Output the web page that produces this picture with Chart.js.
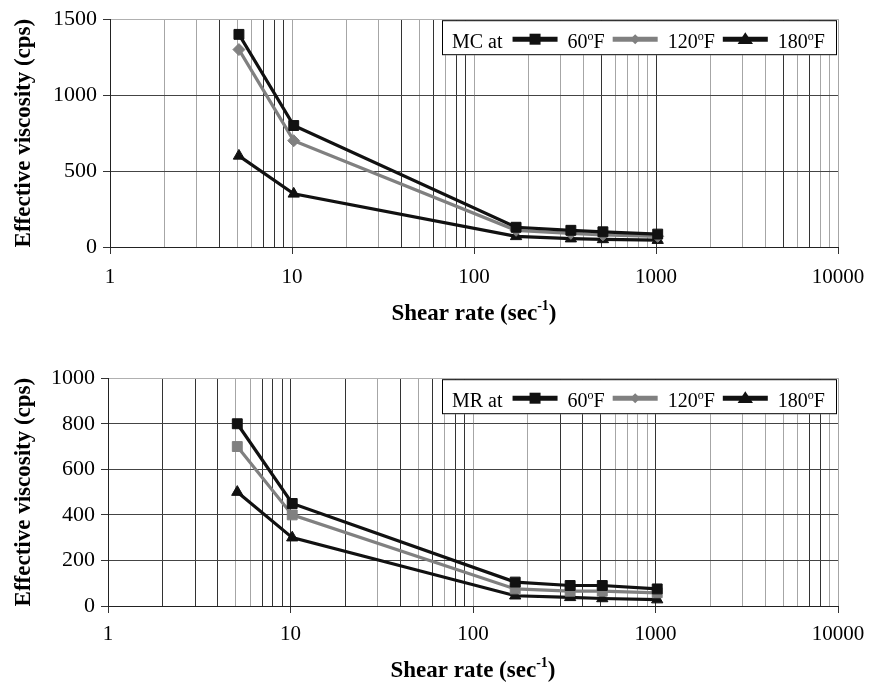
<!DOCTYPE html>
<html>
<head>
<meta charset="utf-8">
<script src="https://cdn.jsdelivr.net/npm/chart.js@4.4.1/dist/chart.umd.min.js"></script>
<style>
  html, body { margin: 0; background: #fff; }
  body { width: 869px; height: 687px; position: relative; overflow: hidden; }
  canvas { position: absolute; left: 0; }
  #mcChart { top: 0; }
  #mrChart { top: 359px; }
</style>
</head>
<body>
<canvas id="mcChart" width="869" height="343"></canvas>
<canvas id="mrChart" width="869" height="328"></canvas>
<script>
// shear rates (sec^-1) of the six viscometer speeds
const SHEAR_RATES = [5.11, 10.22, 170.3, 340.6, 510.9, 1021.8];
const TEMPS = ['60', '120', '180'];

// MC fluid, effective viscosity (cps)
const MC_60F = [1400, 800, 130, 110, 100, 85];
const MC_120F = [1300, 700, 110, 90, 80, 70];
const MC_180F = [600, 350, 70, 55, 50, 45];

// MR fluid, effective viscosity (cps)
const MR_60F = [800, 450, 105, 90, 90, 75];
const MR_120F = [700, 400, 75, 65, 65, 58];
const MR_180F = [500, 300, 45, 38, 33, 28];

// log axis: a grid line at every 1..9 of each decade, labels at the decades
const X_DECADES = [1, 10, 100, 1000, 10000];
const X_MANTISSAS = [1, 2, 3, 4, 5, 6, 7, 8, 9];
const X_LABELS = ['1', '10', '100', '1000', '10000'];

const MC_Y_TICKS = [0, 500, 1000, 1500];
const MR_Y_TICKS = [0, 200, 400, 600, 800, 1000];

// the scanned original has some grid lines printed darker than others
const MC_DARK_X = [4, 7, 8, 9, 40, 60, 80, 90, 500, 1000, 5000, 7000];
const MR_DARK_X = [2, 3, 4, 7, 8, 9, 10, 20, 40, 60, 80, 90, 300, 400, 500, 1000, 7000, 8000];

const FONT = "'Liberation Serif', 'Times New Roman', serif";
const INK = '#111';
const GREY = '#808080';

Chart.defaults.font.family = FONT;
Chart.defaults.font.size = 21;
Chart.defaults.color = '#000';

function xGridValues() {
  const vals = [];
  X_DECADES.slice(0, -1).forEach(d => X_MANTISSAS.forEach(m => vals.push(m * d)));
  vals.push(X_DECADES[X_DECADES.length - 1]);
  return vals;
}

// text with a raised small part, returns x after it
function drawSupText(ctx, parts, x, y, size, bold) {
  const w = bold ? 'bold ' : '';
  parts.forEach(([txt, isSup]) => {
    ctx.font = `${w}${isSup ? Math.round(size * 0.6) : size}px ${FONT}`;
    ctx.fillText(txt, x, isSup ? y - size * 0.42 : y);
    x += ctx.measureText(txt).width;
  });
  return x;
}

function measureSupText(ctx, parts, size, bold) {
  const w = bold ? 'bold ' : '';
  let tw = 0;
  parts.forEach(([txt, isSup]) => {
    ctx.font = `${w}${isSup ? Math.round(size * 0.6) : size}px ${FONT}`;
    tw += ctx.measureText(txt).width;
  });
  return tw;
}

function drawMarker(ctx, style, x, y, r) {
  ctx.beginPath();
  if (style === 'rect') {
    ctx.rect(x - r, y - r, 2 * r, 2 * r);
  } else if (style === 'rectRot') {
    ctx.moveTo(x, y - r); ctx.lineTo(x + r, y); ctx.lineTo(x, y + r); ctx.lineTo(x - r, y);
    ctx.closePath();
  } else {
    ctx.moveTo(x, y - r); ctx.lineTo(x + r * 1.1, y + r * 0.7); ctx.lineTo(x - r * 1.1, y + r * 0.7);
    ctx.closePath();
  }
  ctx.fill();
}

const sheetPlugin = {
  id: 'sheet',
  afterDraw(chart, args, opts) {
    const { ctx, chartArea } = chart;
    ctx.save();
    ctx.fillStyle = '#000';
    ctx.textBaseline = 'alphabetic';
    ctx.textAlign = 'left';

    // x axis title with superscript
    const parts = [['Shear rate (sec', false], ['-1', true], [')', false]];
    const tw = measureSupText(ctx, parts, 23, true);
    drawSupText(ctx, parts, (chartArea.left + chartArea.right) / 2 - tw / 2, chartArea.bottom + opts.titleGap, 23, true);

    // legend box
    const boxW = 395, boxH = 35;
    const bx = chartArea.right - boxW - 1, by = chartArea.top + 1;
    ctx.fillStyle = '#fff';
    ctx.fillRect(bx, by, boxW, boxH);
    ctx.strokeStyle = '#000';
    ctx.lineWidth = 1;
    ctx.strokeRect(bx + 0.5, by + 0.5, boxW - 1, boxH - 1);

    const base = by + 28, lineY = by + 19;
    ctx.fillStyle = '#000';
    ctx.font = `20px ${FONT}`;
    let x = bx + 10;
    ctx.fillText(opts.title, x, base);
    x += ctx.measureText(opts.title).width + 10;
    chart.data.datasets.forEach((ds, i) => {
      ctx.strokeStyle = ds.borderColor;
      ctx.lineWidth = 5;
      ctx.beginPath();
      ctx.moveTo(x, lineY); ctx.lineTo(x + 45, lineY);
      ctx.stroke();
      ctx.fillStyle = ds.borderColor;
      const m = opts.markers[i];
      drawMarker(ctx, m, x + 22.5, lineY, m === 'rect' ? 5.5 : (m === 'rectRot' ? 5 : 7));
      x += 55;
      ctx.fillStyle = '#000';
      x = drawSupText(ctx, [[TEMPS[i], false], ['o', true], ['F', false]], x, base, 20, false) + 8;
    });
    ctx.restore();
  }
};

function makeChart(id, title, series, yTicks, darkX, midStyle, plotLeft, tickPad, titleGap) {
  const gridVals = xGridValues();
  const styles = ['rect', midStyle, 'triangle'];
  const colors = [INK, GREY, INK];
  const radii = { rect: 7, rectRot: 6, triangle: 6.5 };
  const canvas = document.getElementById(id);
  const yMax = yTicks[yTicks.length - 1];
  return new Chart(canvas, {
    type: 'line',
    data: {
      datasets: series.map((vals, i) => ({
        label: TEMPS[i] + '°F',
        data: SHEAR_RATES.map((x, j) => ({ x, y: vals[j] })),
        borderColor: colors[i],
        backgroundColor: colors[i],
        borderWidth: 3.2,
        pointStyle: styles[i],
        pointRadius: radii[styles[i]],
        pointBorderWidth: 1,
        tension: 0,
      })),
    },
    options: {
      responsive: false,
      animation: false,
      devicePixelRatio: 1,
      layout: { padding: { top: 16, right: 31, left: 0, bottom: 0 } },
      plugins: {
        legend: { display: false },
        tooltip: { enabled: false },
        sheet: { title, titleGap, markers: ['rect', 'rectRot', 'triangle'] },
      },
      scales: {
        x: {
          type: 'logarithmic',
          min: X_DECADES[0],
          max: X_DECADES[X_DECADES.length - 1],
          afterBuildTicks: s => { s.ticks = gridVals.map(v => ({ value: v, major: X_DECADES.includes(v) })); },
          afterFit: s => {
            s.height = canvas.height - 16 - 231;
            s.paddingLeft = 0;
            s.paddingRight = 0;
          },
          ticks: {
            autoSkip: false,
            maxRotation: 0,
            padding: tickPad,
            font: { size: 21 },
            callback: v => {
              const k = X_DECADES.indexOf(v);
              return k >= 0 ? X_LABELS[k] : '';
            },
          },
          grid: {
            color: c => (c.tick && darkX.includes(c.tick.value)) ? '#333' : '#a6a6a6',
            tickColor: c => (c.tick && X_DECADES.includes(c.tick.value)) ? '#333' : 'rgba(0,0,0,0)',
            tickLength: 7,
            lineWidth: 1,
          },
          border: { color: '#222', width: 1 },
        },
        y: {
          min: 0,
          max: yMax,
          afterBuildTicks: s => { s.ticks = yTicks.map(v => ({ value: v })); },
          afterFit: s => { s.width = plotLeft; },
          ticks: { padding: 6, font: { size: 22 }, callback: v => String(v) },
          title: {
            display: true,
            text: 'Effective viscosity (cps)',
            font: { size: 23, weight: 'bold' },
            padding: { top: 10, bottom: 0 },
          },
          grid: {
            color: c => (c.tick && c.tick.value === yMax) ? '#b0b0b0' : '#444',
            tickColor: '#333',
            tickLength: 7,
          },
          border: { color: '#222', width: 1 },
        },
      },
    },
    plugins: [sheetPlugin],
  });
}

makeChart('mcChart', 'MC at', [MC_60F, MC_120F, MC_180F], MC_Y_TICKS, MC_DARK_X, 'rectRot', 110, 11, 73);
makeChart('mrChart', 'MR at', [MR_60F, MR_120F, MR_180F], MR_Y_TICKS, MR_DARK_X, 'rect', 108, 9, 71);
</script>
</body>
</html>
